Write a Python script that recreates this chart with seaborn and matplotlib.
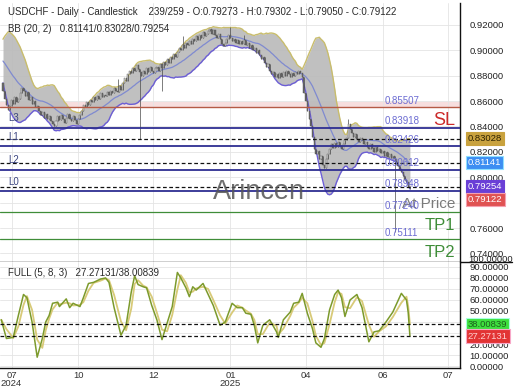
import numpy as np
import pandas as pd
import matplotlib
matplotlib.use("Agg")
import matplotlib.pyplot as plt
import seaborn as sns
from matplotlib.transforms import blended_transform_factory, ScaledTranslation
from matplotlib.lines import Line2D

sns.set_theme(style="white")
plt.rcParams['font.family'] = ['Liberation Sans', 'DejaVu Sans']

# ---------------- data ----------------
title_text = "USDCHF - Daily - Candlestick"
bar_info = "239/259 - O:0.79273 - H:0.79302 - L:0.79050 - C:0.79122"
bb_text = "BB (20, 2)"
bb_last = [0.81141, 0.83028, 0.79254]          # mid / upper / lower
stoch_text = "FULL (5, 8, 3)"
stoch_last = [27.27131, 38.00839]              # %K / %D
last_close = 0.79122

warmup_closes = [0.897, 0.899, 0.896, 0.898, 0.900, 0.897, 0.895, 0.898, 0.896, 0.894,
                 0.897, 0.895, 0.892, 0.894, 0.890, 0.887, 0.884, 0.879, 0.874]

closes = [
    0.868, 0.862, 0.857, 0.853, 0.856, 0.861, 0.858, 0.863, 0.859, 0.862,
    0.866, 0.870, 0.868, 0.864, 0.867, 0.861, 0.863, 0.858, 0.860, 0.855,
    0.856, 0.852, 0.849, 0.851, 0.847, 0.850, 0.846, 0.848, 0.844, 0.842,
    0.840, 0.844, 0.848, 0.845, 0.849, 0.846, 0.843, 0.847, 0.850, 0.846,
    0.844, 0.848, 0.845, 0.842, 0.846, 0.849, 0.852, 0.857, 0.855, 0.859,
    0.857, 0.861, 0.859, 0.863, 0.861, 0.864, 0.862, 0.866, 0.863, 0.865,
    0.864, 0.867, 0.865, 0.868, 0.866, 0.870, 0.868, 0.867, 0.872, 0.869,
    0.874, 0.878, 0.876, 0.881, 0.884, 0.882, 0.886, 0.884, 0.888, 0.885,
    0.883, 0.880, 0.884, 0.881, 0.886, 0.883, 0.887, 0.884, 0.882, 0.886,
    0.887, 0.884, 0.889, 0.886, 0.891, 0.888, 0.893, 0.890, 0.895, 0.893,
    0.897, 0.895, 0.899, 0.902, 0.900, 0.904, 0.902, 0.906, 0.904, 0.907,
    0.905, 0.909, 0.907, 0.911, 0.908, 0.912, 0.910, 0.914, 0.911, 0.913,
    0.915, 0.917, 0.913, 0.916, 0.912, 0.910, 0.913, 0.909, 0.905, 0.903,
    0.906, 0.909, 0.912, 0.910, 0.907, 0.909, 0.906, 0.908, 0.905, 0.907,
    0.905, 0.908, 0.904, 0.906, 0.902, 0.904, 0.900, 0.902, 0.898, 0.900,
    0.896, 0.893, 0.895, 0.890, 0.887, 0.889, 0.884, 0.881, 0.883, 0.879,
    0.881, 0.878, 0.882, 0.879, 0.883, 0.880, 0.884, 0.881, 0.879, 0.882,
    0.880, 0.883, 0.881, 0.884, 0.882, 0.879, 0.866, 0.860, 0.852, 0.846,
    0.840, 0.832, 0.822, 0.818, 0.821, 0.814, 0.817, 0.810, 0.807, 0.814,
    0.818, 0.822, 0.826, 0.823, 0.827, 0.824, 0.828, 0.825, 0.822, 0.826,
    0.829, 0.831, 0.842, 0.838, 0.835, 0.832, 0.834, 0.830, 0.828, 0.831,
    0.829, 0.826, 0.828, 0.824, 0.822, 0.826, 0.823, 0.820, 0.824, 0.821,
    0.822, 0.819, 0.821, 0.817, 0.820, 0.816, 0.818, 0.815, 0.817, 0.814,
    0.812, 0.809, 0.806, 0.804, 0.801, 0.798, 0.796, 0.79273, 0.79122,
]
high_overrides = {67: 0.877, 105: 0.911, 133: 0.918, 141: 0.912, 202: 0.846, 238: 0.79302}
low_overrides = {80: 0.830, 93: 0.868, 229: 0.757, 238: 0.79050}

stoch_bar = [-1, 2, 6, 9, 12, 14, 17, 20, 23, 25, 27, 29, 32, 33, 37, 39, 41, 45, 47, 50,
             53, 57, 60, 62, 65, 69, 72, 75, 77, 79, 82, 84, 87, 90, 93, 96, 99, 102, 104, 107,
             109, 111, 113, 117, 120, 123, 127, 130, 134, 137, 140, 142, 145, 147, 149, 152, 156, 160, 161, 164,
             168, 170, 173, 175, 178, 181, 183, 186, 188, 191, 194, 196, 198, 200, 203, 207, 210, 214, 217, 220,
             224, 228, 233, 236, 237, 238]
stoch_k = [42, 25, 26, 46, 65, 62, 40, 8, 25, 40, 46, 57, 58, 54, 61, 53, 57, 54, 62, 75,
           76, 79, 80, 76, 53, 28, 37, 67, 82, 74, 72, 71, 55, 42, 24, 39, 54, 85, 80, 71,
           63, 72, 69, 75, 65, 55, 37, 40, 57, 53, 53, 48, 47, 37, 21, 37, 42, 31, 26, 42,
           49, 57, 58, 66, 48, 34, 21, 17, 25, 51, 65, 69, 62, 45, 60, 65, 53, 22, 31, 32,
           40, 49, 66, 60, 48.75, 27.27131]

level_values = [0.85507, 0.83918, 0.82426, 0.80612, 0.78948, 0.77240, 0.75111]
level_left = ["", "L3", "L1", "L2", "L0", "", ""]
level_tags = ["SL", "", "", "", "At Price", "TP1", "TP2"]
level_kind = ["sl", "lvl", "lvl", "lvl", "lvl", "tp", "tp"]
sl_zone = [0.85507, 0.8595]

tick_bars = [5, 44, 88, 133, 177, 222, 260]
tick_labels = ["07\n2024", "10", "12", "01\n2025", "04", "06", "07"]
price_ticks = [0.74, 0.76, 0.78, 0.80, 0.82, 0.84, 0.86, 0.88, 0.90, 0.92]
price_hidden = [0.78]            # covered by the price tags in the reference
stoch_ticks = [0, 10, 20, 30, 40, 50, 60, 70, 80, 90]
stoch_hidden = [30, 40]          # covered by the indicator tags in the reference

# ---------------- derived ----------------
n = len(closes)
idx = np.arange(n)
allc = pd.Series(warmup_closes + closes)
mid = allc.rolling(20).mean().to_numpy()[len(warmup_closes):]
sd = allc.rolling(20).std(ddof=0).to_numpy()[len(warmup_closes):]
upper = mid + 2 * sd
lower = mid - 2 * sd
opens = np.array(([warmup_closes[-1]] + closes[:-1]), dtype=float)
opens[-1] = 0.79273
cl = np.array(closes, dtype=float)
highs = np.maximum(opens, cl)
lows = np.minimum(opens, cl)
for k, v in high_overrides.items():
    highs[k] = v
for k, v in low_overrides.items():
    lows[k] = v

sk = pd.Series(stoch_k, dtype=float)
sd_line = sk.rolling(2, min_periods=1).mean()

# ---------------- figure ----------------
fig = plt.figure(figsize=(5.2, 3.9), dpi=100)
fig.patch.set_facecolor("white")
L, R = 0.0, 460 / 520
ax = fig.add_axes([L, 1 - 262 / 390, R - L, (262 - 3) / 390])
ax2 = fig.add_axes([L, 1 - 368 / 390, R - L, (368 - 262) / 390], sharex=ax)

xmin, xmax = -1.75, 267.3
ax.set_xlim(xmin, xmax)
ax.set_ylim(0.7333, 0.9372)
ax2.set_ylim(-1.8, 94.5)

for a in (ax, ax2):
    a.set_facecolor("white")
    a.set_xticks(tick_bars)
    a.grid(True, color="#e4e4e4", lw=0.6)
    a.set_axisbelow(True)
    for s in ("left", "top"):
        a.spines[s].set_visible(False)
    a.spines["right"].set_color("#111")
    a.spines["right"].set_linewidth(1.0)
    a.spines["bottom"].set_color("#111")
    a.spines["bottom"].set_linewidth(1.0)
    a.yaxis.set_ticks_position("right")
    a.tick_params(axis="y", length=0, pad=7, labelsize=6.8, labelcolor="#222")
    a.tick_params(axis="x", length=0)

ax.set_yticks(price_ticks)
ax.set_yticklabels(["" if v in price_hidden else f"{v:.5f}" for v in price_ticks])
ax.tick_params(axis="x", labelbottom=False)
ax2.set_yticks(stoch_ticks)
ax2.set_yticklabels(["" if v in stoch_hidden else f"{v:.5f}" for v in stoch_ticks])
ax2.set_xticklabels(tick_labels)
ax2.tick_params(axis="x", labelsize=6.8, labelcolor="#333", pad=2)
for t in ax2.get_xticklabels():
    t.set_linespacing(0.95)

# SL zone
ax.axhspan(sl_zone[0], sl_zone[1], color="#f7dede", lw=0, zorder=0.5)

# Bollinger bands
ax.fill_between(idx, lower, upper, color="#bababa", alpha=0.9, lw=0, zorder=1)
sns.lineplot(x=idx, y=upper, ax=ax, color="#c9bd6c", lw=1.0, zorder=2)
sns.lineplot(x=idx, y=lower, ax=ax, color="#6c5ed6", lw=1.0, zorder=2)
sns.lineplot(x=idx, y=mid, ax=ax, color="#7f8ad0", lw=0.9, zorder=2)

# candles
ax.vlines(idx, lows, highs, color="#4a4a4a", lw=0.5, zorder=3)
up = cl >= opens
body_lo = np.minimum(opens, cl)
body_h = np.maximum(np.abs(cl - opens), 0.0002)
ax.bar(idx[up], body_h[up], bottom=body_lo[up], width=0.6, color="#f2f2f2",
       edgecolor="#555555", lw=0.3, zorder=3.5)
ax.bar(idx[~up], body_h[~up], bottom=body_lo[~up], width=0.6, color="#6a6a6a",
       edgecolor="#555555", lw=0.3, zorder=3.5)

# levels
colors = {"sl": "#b55a45", "lvl": "#2e2e92", "tp": "#3f8d38"}
lws = {"sl": 1.0, "lvl": 1.3, "tp": 0.9}
trx = blended_transform_factory(ax.transAxes, ax.transData)
for v, lab, tg, kind in zip(level_values, level_left, level_tags, level_kind):
    ax.axhline(v, color=colors[kind], lw=lws[kind], zorder=4)
    ax.annotate(f"{v:.5f}", xy=(0.837, v), xycoords=trx, xytext=(0, 4.5), textcoords="offset points",
                fontsize=7, color="#6c6cd2", ha="left", va="center", zorder=6)
    if lab:
        ax.annotate(lab, xy=(0.017, v), xycoords=trx, xytext=(0, 6.5), textcoords="offset points",
                    fontsize=7, color="#3b4580", ha="left", va="center", zorder=6)
    if tg:
        if kind == "sl":
            c, fs = "#cc2a2a", 13
        elif kind == "tp":
            c, fs = "#3f8d38", 12
        else:
            c, fs = "#7a7a7a", 11
        ax.annotate(tg, xy=(0.99, v), xycoords=trx, xytext=(0, -9.5), textcoords="offset points",
                    fontsize=fs, color=c, ha="right", va="center", zorder=6)

# BB dashed current values
for v in bb_last:
    ax.axhline(v, color="#111", lw=0.9, ls=(0, (3, 2)), zorder=4.5)

# watermark
ax.text(0.563, 0.27, "Arincen", transform=ax.transAxes, fontsize=19.5, color="#555555",
        alpha=0.85, ha="center", va="center", zorder=7)

# header texts
ax.text(0.017, 0.966, f"{title_text}    {bar_info}", transform=ax.transAxes, fontsize=7,
        color="#2a2a2a", ha="left", va="center", zorder=8)
ax.text(0.017, 0.9, f"{bb_text}   {bb_last[0]:.5f}/{bb_last[1]:.5f}/{bb_last[2]:.5f}",
        transform=ax.transAxes, fontsize=7, color="#2a2a2a", ha="left", va="center", zorder=8)

# price tags on right
def tag(a, y, text, fc, tc, ec, dy_px=0.0):
    tr = blended_transform_factory(a.transAxes, a.transData) + \
        ScaledTranslation(0, -dy_px / 100, fig.dpi_scale_trans)
    a.text(1.017, y, text, transform=tr, fontsize=6.8, color=tc, ha="left", va="center",
           bbox=dict(boxstyle="square,pad=0.22", fc=fc, ec=ec, lw=0.8), clip_on=False, zorder=10)

tag(ax, bb_last[1], f"{bb_last[1]:.5f}", "#c9a23e", "#2e2200", "#c9a23e")
tag(ax, bb_last[0], f"{bb_last[0]:.5f}", "#3d8ef2", "white", "#8fe0ff")
tag(ax, bb_last[2], f"{bb_last[2]:.5f}", "#6a3fd6", "white", "#6a3fd6")
tag(ax, last_close, f"{last_close:.5f}", "#e05252", "white", "#f5a0b0", dy_px=11)

# stochastic
sns.lineplot(x=stoch_bar, y=sd_line, ax=ax2, color="#d8ca78", lw=1.3, zorder=3)
sns.lineplot(x=stoch_bar, y=sk, ax=ax2, color="#7c9a2c", lw=1.1, zorder=3.5)
for v in stoch_last:
    ax2.axhline(v, color="#111", lw=0.9, ls=(0, (3, 2)), zorder=4)
ax2.text(0.017, 0.9, f"{stoch_text}   {stoch_last[0]:.5f}/{stoch_last[1]:.5f}",
         transform=ax2.transAxes, fontsize=7, color="#2a2a2a", ha="left", va="center", zorder=8)
tag(ax2, stoch_last[1], f"{stoch_last[1]:.5f}", "#3ee03e", "#1d5f1d", "#a8ffe0")
tag(ax2, stoch_last[0], f"{stoch_last[0]:.5f}", "#e23434", "#ffd0d0", "#f7a8c8")
ax2.text(1.017, 97, f"{100:.5f}", transform=blended_transform_factory(ax2.transAxes, ax2.transData),
         fontsize=6.8, color="#222", ha="left", va="center", clip_on=False)

ax.set_xlabel("")
ax.set_ylabel("")
ax2.set_xlabel("")
ax2.set_ylabel("")

# separator extending into label area
fig.add_artist(Line2D([R, 0.985], [1 - 262 / 390, 1 - 262 / 390], color="#111", lw=1.0))

fig.savefig("out.png", dpi=100, facecolor="white")
